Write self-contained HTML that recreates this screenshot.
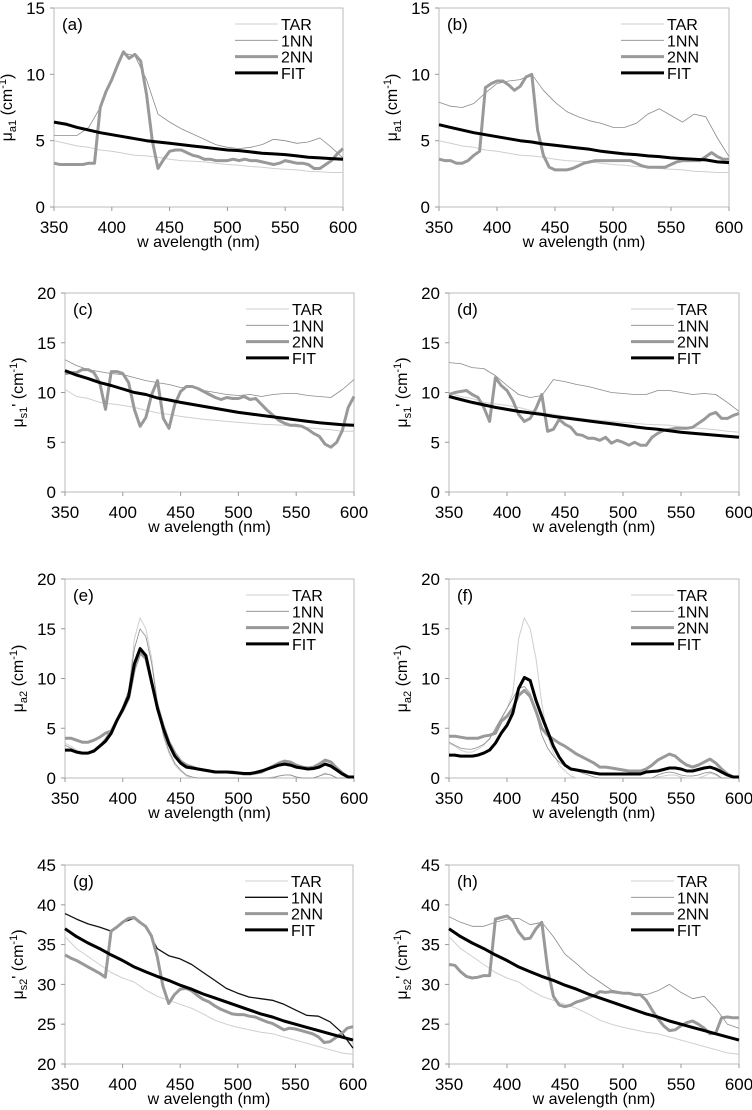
<!DOCTYPE html>
<html><head><meta charset="utf-8">
<style>
html,body{margin:0;padding:0;background:#fff;}
svg{display:block;font-family:"Liberation Sans",Arial,sans-serif;}
</style></head>
<body>
<svg id="fig" width="752" height="1110" viewBox="0 0 752 1110" xmlns="http://www.w3.org/2000/svg"></svg>
<script>
// ---- shared wavelength grids ----
const wl10 = [350,360,370,380,390,400,410,420,430,440,450,460,470,480,490,500,510,520,530,540,550,560,570,580,590,600];
const wl5 = [350,355,360,365,370,375,380,385,390,395,400,405,410,415,420,425,430,435,440,445,450,455,460,465,470,475,480,485,490,495,500,505,510,515,520,525,530,535,540,545,550,555,560,565,570,575,580,585,590,595,600];
const xTicks = [350,400,450,500,550,600];

// ---- panel (a) ----
const aTAR = [5.0,4.8,4.6,4.5,4.3,4.2,4.05,3.9,3.85,3.75,3.6,3.5,3.45,3.4,3.3,3.2,3.15,3.05,3.0,2.9,2.85,2.8,2.7,2.65,2.6,2.6];
const a1NN = [5.4,5.4,5.4,6.0,7.5,9.6,11.6,11.4,9.6,7.0,6.4,5.9,5.5,5.1,4.7,4.5,4.4,4.5,4.7,5.1,5.0,4.8,4.9,5.2,4.5,3.7];
const a2NN = [3.3,3.2,3.2,3.2,3.2,3.2,3.3,3.3,7.5,8.7,9.6,10.7,11.7,11.2,11.5,11.0,8.5,5.0,2.9,3.6,4.2,4.3,4.3,4.1,3.9,3.8,3.6,3.6,3.5,3.5,3.5,3.6,3.5,3.6,3.5,3.5,3.4,3.3,3.2,3.3,3.5,3.4,3.3,3.3,3.2,2.9,2.9,3.2,3.5,4.0,4.4];
const aFIT = [6.4,6.25,6.0,5.8,5.6,5.45,5.3,5.15,5.0,4.9,4.8,4.7,4.6,4.5,4.4,4.3,4.25,4.15,4.05,4.0,3.95,3.85,3.75,3.7,3.65,3.6];
// ---- panel (b) ----
const bTAR = [5.0,4.8,4.6,4.5,4.3,4.2,4.05,3.9,3.85,3.75,3.6,3.5,3.45,3.4,3.3,3.2,3.15,3.05,3.0,2.9,2.85,2.8,2.7,2.65,2.6,2.6];
const b1NN = [7.9,7.6,7.5,7.8,8.6,9.3,9.5,9.6,10.0,8.8,7.9,7.2,6.8,6.5,6.3,6.0,6.0,6.3,7.0,7.4,6.9,6.4,7.0,6.8,5.2,3.8];
const b2NN = [3.6,3.5,3.5,3.3,3.3,3.5,3.9,4.2,9.0,9.3,9.5,9.5,9.2,8.8,9.1,9.8,10.0,5.8,3.9,3.0,2.8,2.8,2.8,2.9,3.1,3.3,3.4,3.5,3.5,3.5,3.5,3.5,3.5,3.5,3.3,3.1,3.0,3.0,3.0,3.0,3.2,3.4,3.5,3.5,3.5,3.5,3.8,4.1,3.8,3.6,3.6];
const bFIT = [6.2,6.0,5.8,5.6,5.45,5.3,5.15,5.0,4.9,4.75,4.65,4.55,4.45,4.35,4.2,4.1,4.0,3.95,3.85,3.8,3.7,3.65,3.6,3.55,3.4,3.35];
// ---- panel (c) ----
const cTAR = [10.3,9.6,9.4,9.0,8.85,8.7,8.5,8.2,7.95,7.8,7.6,7.45,7.3,7.2,7.1,7.0,6.9,6.8,6.75,6.7,6.55,6.45,6.35,6.25,6.1,6.1];
const c1NN = [13.3,12.7,12.3,12.1,11.9,11.8,11.5,11.2,11.0,10.8,10.5,10.5,10.2,10.0,9.8,9.7,9.8,9.6,9.8,9.9,9.9,9.7,9.6,9.5,10.3,11.3];
const c2NN = [11.9,12.0,12.0,12.3,12.3,12.0,11.0,8.3,12.1,12.1,11.9,11.0,8.3,6.6,7.5,9.8,11.2,7.4,6.4,8.8,10.1,10.6,10.6,10.4,10.1,9.8,9.5,9.3,9.5,9.4,9.4,9.6,9.3,9.4,8.8,8.2,7.7,7.2,6.9,6.7,6.7,6.6,6.3,5.9,5.6,4.8,4.5,5.0,6.2,8.5,9.6];
const cFIT = [12.2,11.75,11.4,11.0,10.7,10.35,10.0,9.8,9.45,9.25,9.0,8.8,8.6,8.4,8.2,8.0,7.85,7.7,7.55,7.4,7.25,7.1,6.95,6.85,6.75,6.7];
// ---- panel (d) ----
const dTAR = [10.0,9.6,9.4,9.0,8.85,8.7,8.5,8.2,7.95,7.8,7.6,7.45,7.3,7.2,7.1,7.0,6.9,6.8,6.75,6.7,6.55,6.45,6.35,6.25,6.1,6.0];
const d1NN = [13.0,12.9,12.5,12.4,11.7,10.7,9.8,9.5,9.7,11.3,11.1,10.8,10.6,10.3,10.0,9.9,9.8,9.8,10.2,10.2,10.0,9.8,9.9,9.8,9.0,8.1];
const d2NN = [9.8,10.0,10.1,10.2,9.8,9.5,8.5,7.1,11.5,10.7,10.2,9.2,7.8,7.1,7.4,8.4,9.8,6.1,6.3,7.3,6.8,6.5,5.8,5.7,5.4,5.4,5.2,5.5,4.9,5.2,5.0,4.7,5.0,4.7,4.7,5.5,5.9,6.2,6.3,6.4,6.4,6.4,6.5,6.9,7.3,7.8,8.0,7.4,7.4,7.7,7.9];
const dFIT = [9.6,9.3,9.0,8.75,8.5,8.3,8.1,7.95,7.8,7.6,7.45,7.3,7.15,7.0,6.85,6.7,6.55,6.4,6.3,6.15,6.0,5.9,5.8,5.7,5.6,5.5];
// ---- panel (e) ----
const eTAR = [3.5,3.2,2.8,2.6,2.6,2.9,3.3,4.0,4.8,5.8,7.0,8.5,14.0,16.1,15.0,12.0,7.5,4.2,2.5,1.3,0.7,0.2,0,0,0,0,0,0,0,0,0,0,0,0,0,0,0.1,0.2,0.3,0.3,0.1,0,0,0,0.2,0.5,0.3,0,0,0,0];
const e1NN = [3.3,3.0,2.7,2.5,2.5,2.8,3.3,4.0,4.9,6.0,7.2,8.8,13.0,15.0,14.2,11.5,7.5,4.4,2.7,1.5,0.8,0.3,0.1,0,0,0,0,0,0,0,0,0,0,0,0,0,0,0.2,0.3,0.3,0.1,0,0,0,0.2,0.4,0.3,0,0,0,0];
const e2NN = [4.0,4.0,3.8,3.6,3.6,3.8,4.1,4.5,4.7,5.8,6.8,8.0,11.0,12.6,12.0,9.6,7.2,5.2,3.6,2.5,1.7,1.3,1.1,0.9,0.8,0.7,0.6,0.6,0.6,0.6,0.5,0.4,0.4,0.5,0.6,0.9,1.2,1.5,1.7,1.6,1.3,1.1,1.0,1.1,1.4,1.8,1.6,1.0,0.5,0.1,0.1];
const eFIT = [2.8,2.8,2.6,2.5,2.5,2.7,3.2,3.7,4.5,5.8,6.9,8.2,11.5,13.0,12.3,9.6,7.0,5.0,3.4,2.2,1.5,1.1,1.0,0.9,0.8,0.7,0.6,0.6,0.6,0.55,0.5,0.45,0.45,0.55,0.7,0.9,1.1,1.3,1.4,1.3,1.1,1.0,0.9,0.95,1.1,1.4,1.2,0.8,0.4,0.1,0.1];
// ---- panel (f) ----
const fTAR = [3.5,3.2,2.8,2.6,2.6,2.9,3.3,4.0,4.8,5.8,7.0,8.5,14.0,16.1,15.0,12.0,7.5,4.2,2.5,1.3,0.7,0.2,0,0,0,0,0,0,0,0,0,0,0,0,0,0,0.1,0.2,0.3,0.3,0.1,0,0,0,0.2,0.5,0.3,0,0,0,0];
const f1NN = [3.6,3.3,3.0,2.9,2.9,3.1,3.4,3.9,5.0,6.0,7.0,8.0,9.0,9.2,8.5,6.5,4.3,3.0,2.2,1.6,1.2,0.9,0.7,0.5,0.3,0.1,0,0,0,0,0,0,0,0,0,0,0.3,0.5,0.6,0.5,0.3,0.2,0.2,0.3,0.5,0.6,0.4,0,0,0,0];
const f2NN = [4.2,4.2,4.1,4.0,4.0,4.0,4.2,4.3,4.5,5.7,6.2,7.0,8.3,8.8,8.2,6.7,5.0,4.3,3.9,3.5,3.2,2.8,2.4,2.1,1.8,1.5,1.1,1.1,1.0,0.9,0.8,0.7,0.7,0.7,0.9,1.3,1.8,2.1,2.4,2.2,1.7,1.3,1.1,1.3,1.6,1.9,1.5,0.9,0.4,0.1,0.1];
const fFIT = [2.3,2.3,2.2,2.2,2.2,2.3,2.5,2.8,3.5,4.5,5.3,6.5,9.0,10.1,9.8,7.8,6.2,4.7,3.2,2.1,1.3,0.9,0.8,0.7,0.6,0.5,0.4,0.4,0.4,0.4,0.4,0.4,0.4,0.4,0.6,0.65,0.7,0.85,1.0,1.0,0.9,0.7,0.7,0.85,1.0,1.1,0.9,0.6,0.3,0.1,0.1];
// ---- panel (g) ----
const gTAR = [36.0,34.5,33.5,32.5,31.5,30.8,30.3,29.3,28.5,28.0,27.5,27.0,26.3,25.5,25.0,24.6,24.3,24.0,23.8,23.4,23.0,22.6,22.2,21.8,21.4,21.2];
const g1NN = [38.9,38.2,37.6,37.2,36.7,37.8,38.3,37.3,34.5,33.6,33.2,32.5,31.5,30.5,29.5,28.9,28.4,28.2,28.0,27.5,26.8,26.1,26.0,25.3,24.0,22.0];
const g2NN = [33.7,33.3,33.0,32.6,32.2,31.8,31.4,30.9,36.7,37.2,37.8,38.3,38.4,37.8,37.3,36.1,33.5,29.8,27.6,28.7,29.4,29.5,29.2,28.6,28.1,27.8,27.3,26.9,26.6,26.3,26.2,26.2,26.0,25.9,25.6,25.3,25.1,24.7,24.3,24.5,24.4,24.2,24.0,23.8,23.4,22.7,22.8,23.3,23.8,24.5,24.7];
const gFIT = [37.0,36.0,35.2,34.5,33.7,33.0,32.2,31.6,31.0,30.5,29.9,29.4,28.8,28.3,27.8,27.3,26.8,26.3,25.9,25.4,25.0,24.6,24.2,23.8,23.4,23.0];
// ---- panel (h) ----
const hTAR = [36.0,34.5,33.5,32.5,31.5,30.8,30.3,29.3,28.5,28.0,27.5,27.0,26.3,25.5,25.0,24.6,24.3,24.0,23.8,23.4,23.0,22.6,22.2,21.8,21.4,21.2];
const h1NN = [38.5,37.8,37.3,37.3,37.8,38.2,38.3,37.5,37.8,36.0,33.8,32.6,31.3,30.3,29.3,29.0,28.8,28.7,29.2,30.0,29.0,28.2,28.5,27.0,25.0,24.5];
const h2NN = [32.5,32.4,31.6,31.0,30.8,30.9,31.1,31.1,38.2,38.4,38.6,38.0,36.6,35.7,35.8,37.0,37.8,32.0,28.5,27.4,27.2,27.4,27.8,28.0,28.3,28.6,29.1,29.0,29.1,29.0,28.9,28.9,28.7,28.7,28.0,26.8,25.7,24.8,24.2,24.3,24.8,25.2,25.4,25.0,24.5,23.8,23.9,25.8,25.9,25.8,25.8];
const hFIT = [37.0,36.0,35.2,34.5,33.7,33.0,32.2,31.6,31.0,30.5,29.9,29.4,28.8,28.3,27.8,27.3,26.8,26.3,25.9,25.4,25.0,24.6,24.2,23.8,23.4,23.0];

const ticksA = [0,5,10,15];
const ticksS1 = [0,5,10,15,20];
const ticksS2 = [20,25,30,35,40,45];

const NS = "http://www.w3.org/2000/svg";
const svg = document.getElementById('fig');
function mk(tag, attrs, parent){
  const e = document.createElementNS(NS, tag);
  for (const k in attrs) e.setAttribute(k, attrs[k]);
  (parent||svg).appendChild(e);
  return e;
}

const panels = [
  {id:'a', L:54, R:343, T:8, B:207, yt:ticksA, yl:'a1', pr:'', series:[[wl10,aTAR],[wl10,a1NN],[wl5,a2NN],[wl10,aFIT]]},
  {id:'b', L:439, R:729, T:8, B:207, yt:ticksA, yl:'a1', pr:'', series:[[wl10,bTAR],[wl10,b1NN],[wl5,b2NN],[wl10,bFIT]]},
  {id:'c', L:65, R:354, T:293, B:492, yt:ticksS1, yl:'s1', pr:"'", series:[[wl10,cTAR],[wl10,c1NN],[wl5,c2NN],[wl10,cFIT]]},
  {id:'d', L:449, R:739, T:293, B:492, yt:ticksS1, yl:'s1', pr:"'", series:[[wl10,dTAR],[wl10,d1NN],[wl5,d2NN],[wl10,dFIT]]},
  {id:'e', L:65, R:354, T:579, B:778, yt:ticksS1, yl:'a2', pr:'', series:[[wl5,eTAR],[wl5,e1NN],[wl5,e2NN],[wl5,eFIT]]},
  {id:'f', L:449, R:739, T:579, B:778, yt:ticksS1, yl:'a2', pr:'', series:[[wl5,fTAR],[wl5,f1NN],[wl5,f2NN],[wl5,fFIT]]},
  {id:'g', L:65, R:353, T:865, B:1064, yt:ticksS2, yl:'s2', pr:"'", dark1:true, series:[[wl10,gTAR],[wl10,g1NN],[wl5,g2NN],[wl10,gFIT]]},
  {id:'h', L:449, R:739, T:865, B:1064, yt:ticksS2, yl:'s2', pr:"'", series:[[wl10,hTAR],[wl10,h1NN],[wl5,h2NN],[wl10,hFIT]]}
];
const names = ['TAR','1NN','2NN','FIT'];

panels.forEach(p => {
  const g = mk('g', {});
  
  
  const y0 = p.yt[0], y1 = p.yt[p.yt.length-1];
  const sx = v => p.L + (v - 350) / 250 * (p.R - p.L);
  const sy = v => p.B - (v - y0) / (y1 - y0) * (p.B - p.T);

  const frame = mk('rect', {x:p.L, y:p.T, width:p.R-p.L, height:p.B-p.T, fill:'none', stroke:'#bbb', 'stroke-width':1}, g);
  
  

  p.yt.forEach(t => {
    const y = sy(t);
    mk('line', {x1:p.L-4, x2:p.L, y1:y, y2:y, stroke:'#999'}, g);
    const tx = mk('text', {x:p.L-9, y:y+6, 'font-size':17, 'text-anchor':'end', fill:'#000'}, g);
    tx.textContent = t;
    
    
  });
  xTicks.forEach(t => {
    const x = sx(t);
    mk('line', {x1:x, x2:x, y1:p.B, y2:p.B+4, stroke:'#999'}, g);
    const tx = mk('text', {x:x, y:p.B+26, 'font-size':17, 'text-anchor':'middle', fill:'#000'}, g);
    tx.textContent = t;
    
    
  });

  const xt = mk('text', {x:(p.L+p.R)/2, y:p.B+40, 'font-size':16, 'text-anchor':'middle', fill:'#000'}, g);
  xt.textContent = 'w avelength (nm)';
  
  

  const yx = p.L - 42, yy = (p.T + p.B) / 2;
  const yt = mk('text', {x:yx, y:yy, 'font-size':16, 'text-anchor':'middle', fill:'#000', transform:'rotate(-90 '+yx+' '+yy+')'}, g);
  yt.innerHTML = 'μ<tspan font-size="11" dy="4">'+p.yl+'</tspan><tspan dy="-4">'+p.pr+' (cm</tspan><tspan font-size="11" dy="-6">-1</tspan><tspan dy="6">)</tspan>';
  
  

  const pl = mk('text', {x:p.L+8, y:p.T+22, 'font-size':17, fill:'#000'}, g);
  pl.textContent = '(' + p.id + ')';
  
  

  const styles = [
    {stroke:'#cfcfcf', w:1},
    {stroke: p.dark1 ? '#111' : '#8a8a8a', w: p.dark1 ? 1.3 : 0.8},
    {stroke:'#999', w:3},
    {stroke:'#000', w:3}
  ];
  p.series.forEach((s, i) => {
    const xs = s[0], ys = s[1];
    let d = '';
    for (let k = 0; k < xs.length && k < ys.length; k++) {
      d += (k ? 'L' : 'M') + sx(xs[k]).toFixed(1) + ' ' + sy(ys[k]).toFixed(1);
    }
    const path = mk('path', {d:d, fill:'none', stroke:styles[i].stroke, 'stroke-width':styles[i].w, 'stroke-linejoin':'round'}, g);
    
    
  });

  names.forEach((n, i) => {
    const ly = p.T + 16 + i * 16.3;
    const ln = mk('line', {x1:p.R-108, x2:p.R-65, y1:ly, y2:ly, stroke:styles[i].stroke, 'stroke-width':styles[i].w}, g);
    
    
    const lt = mk('text', {x:p.R-62, y:ly+6, 'font-size':16, fill:'#000'}, g);
    lt.textContent = n;
    
    
  });
});
</script>
</body></html>
